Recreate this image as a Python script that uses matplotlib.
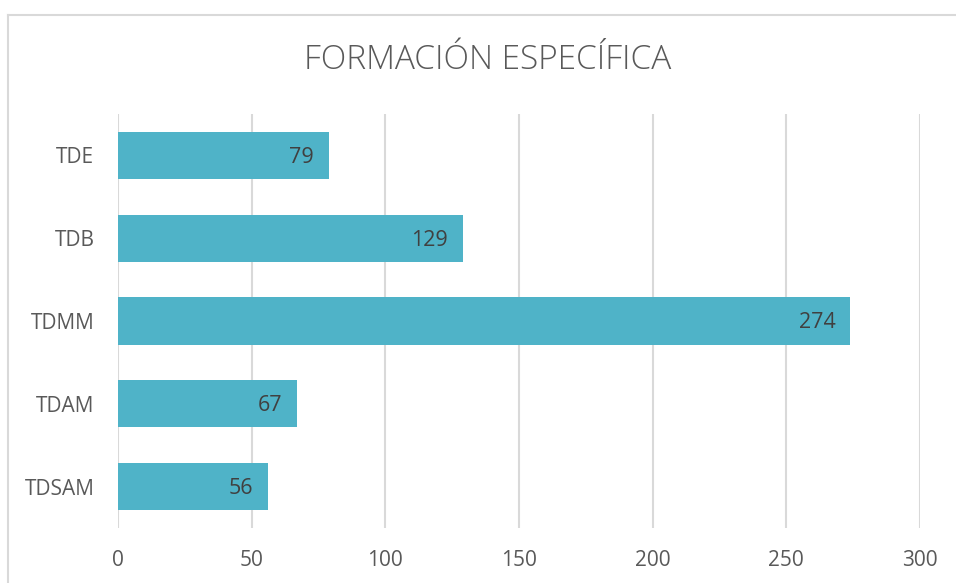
import matplotlib.pyplot as plt
from matplotlib.lines import Line2D

categories = ['TDE', 'TDB', 'TDMM', 'TDAM', 'TDSAM']
values = [79, 129, 274, 67, 56]
x_ticks = [0, 50, 100, 150, 200, 250, 300]

bar_color = '#4FB3C8'
text_gray = '#595959'
grid_gray = '#D9D9D9'

plt.rcParams['font.family'] = ['Open Sans', 'DejaVu Sans']

fig = plt.figure(figsize=(9.56, 5.83), dpi=100)
ax = fig.add_axes([118 / 956, 1 - 528 / 583, (920 - 118) / 956, (528 - 114) / 583])

pos = list(range(len(categories)))
ax.barh(pos, values, height=0.57, color=bar_color, zorder=3)

for p, v in zip(pos, values):
    ax.annotate(str(v), (v, p), xytext=(-15, -2), textcoords='offset pixels',
                ha='right', va='center', fontsize=15.5, color='#404040', zorder=4)

ax.set_xlim(0, 300)
ax.set_ylim(len(categories) - 0.5, -0.5)
ax.set_xticks(x_ticks)
ax.set_yticks(pos)
ax.set_yticklabels(categories)
ax.tick_params(axis='both', length=0, labelsize=15, labelcolor=text_gray)
ax.tick_params(axis='x', pad=16)
ax.tick_params(axis='y', pad=17)
ax.xaxis.grid(True, color=grid_gray, linewidth=1.5, zorder=0)
for s in ax.spines.values():
    s.set_visible(False)

fig.text(488 / 956, 1 - 60 / 583, 'FORMACIÓN ESPECÍFICA', ha='center', va='center',
         fontsize=24, color=text_gray, fontweight='light')

# chart border (runs off the right and bottom edges)
fig.add_artist(Line2D([8 / 956, 1.0], [1 - 15 / 583] * 2, color=grid_gray, linewidth=1.5))
fig.add_artist(Line2D([8 / 956] * 2, [0.0, 1 - 15 / 583], color=grid_gray, linewidth=1.5))

fig.savefig('out.png', dpi=100)
